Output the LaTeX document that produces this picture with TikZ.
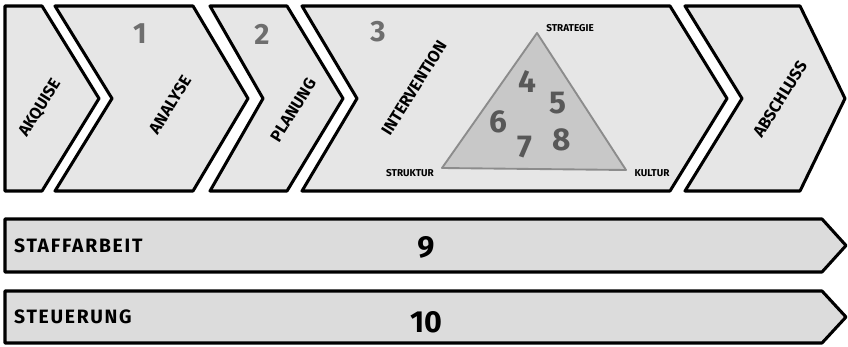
\documentclass[tikz,border=0pt]{standalone}
\usepackage{fontspec}
\setmainfont{Fira Sans}
\usepackage{tikz}
\usetikzlibrary{positioning}
\definecolor{phasefill}{HTML}{E6E6E6}
\definecolor{bandfill}{HTML}{DCDCDC}
\definecolor{numgray}{HTML}{6E6E6E}
\definecolor{trifill}{HTML}{C8C8C8}
\definecolor{triline}{HTML}{8C8C8C}
\definecolor{trinum}{HTML}{585858}

\begin{document}
\begin{tikzpicture}[x=0.03cm, y=-0.03cm,
phase/.style={draw, line width=2.6pt, line join=round, fill=phasefill},
band/.style={draw, line width=2.6pt, line join=round, fill=bandfill},
phaselabel/.style={font=\fontsize{14}{14}\selectfont\bfseries, rotate=58},
bandlabel/.style={font=\fontsize{16.5}{16.5}\selectfont\bfseries\addfontfeatures{LetterSpace=9}, anchor=west},
stepnum/.style={font=\fontsize{25}{25}\selectfont\bfseries, text=numgray},
trinumber/.style={font=\fontsize{27}{27}\selectfont\bfseries, text=trinum},
bandnum/.style={font=\fontsize{26}{26}\selectfont\bfseries},
cornerlabel/.style={font=\fontsize{8.5}{8.5}\selectfont\bfseries}
]
\useasboundingbox (0,0) rectangle (848,347);

% phases
\draw[phase] (5,6) -- (42,6) -- (99,98.5) -- (42,191) -- (5,191) -- cycle;
\draw[phase] (55,6) -- (193,6) -- (248,98.5) -- (193,191) -- (55,191) -- (112,98.5) -- cycle;
\draw[phase] (210,6) -- (287,6) -- (343,98.5) -- (287,191) -- (210,191) -- (263,98.5) -- cycle;
\draw[phase] (302,6) -- (670,6) -- (727,98.5) -- (670,191) -- (302,191) -- (357,98.5) -- cycle;
\draw[phase] (685,6) -- (800,6) -- (845,98.5) -- (800,191) -- (685,191) -- (742,98.5) -- cycle;

\node[phaselabel] (akquise) at (40,108) {AKQUISE};
\node[phaselabel] (analyse) at (170,105) {ANALYSE};
\node[phaselabel] (planung) at (293,110) {PLANUNG};
\node[phaselabel] (intervention) at (414,88) {INTERVENTION};
\node[phaselabel] (abschluss) at (780,99) {ABSCHLUSS};

\node[stepnum] (n1) at (140,34) {1};
\node[stepnum] (n2) at (262,34) {2};
\node[stepnum] (n3) at (378,32) {3};

% triangle
\coordinate (strat) at (537,33);
\coordinate (strukt) at (442,168);
\coordinate (kult) at (626,170);
\draw[fill=trifill, draw=triline, line width=1.6pt, line join=round] (strat) -- (strukt) -- (kult) -- cycle;
\node[cornerlabel] (strategie) at (570,28) {STRATEGIE};
\node[cornerlabel] (struktur) at (410,173) {STRUKTUR};
\node[cornerlabel] (kultur) at (652,173) {KULTUR};

\node[trinumber] (n4) at (527,82) {4};
\node[trinumber] (n5) at (558,103) {5};
\node[trinumber] (n6) at (498,122) {6};
\node[trinumber] (n7) at (525,147) {7};
\node[trinumber] (n8) at (562,140) {8};

% bands
\draw[band] (5,219) -- (822,219) -- (846,245.5) -- (822,272) -- (5,272) -- cycle;
\draw[band] (5,291) -- (822,291) -- (846,317) -- (822,343) -- (5,343) -- cycle;

\node[bandlabel] (staffarbeit) at (10,245.5) {STAFFARBEIT};
\node[bandlabel] (steuerung) at (10,317) {STEUERUNG};
\node[bandnum] (n9) at (426,247) {9};
\node[bandnum] (n10) at (426,322) {10};
\end{tikzpicture}
\end{document}
